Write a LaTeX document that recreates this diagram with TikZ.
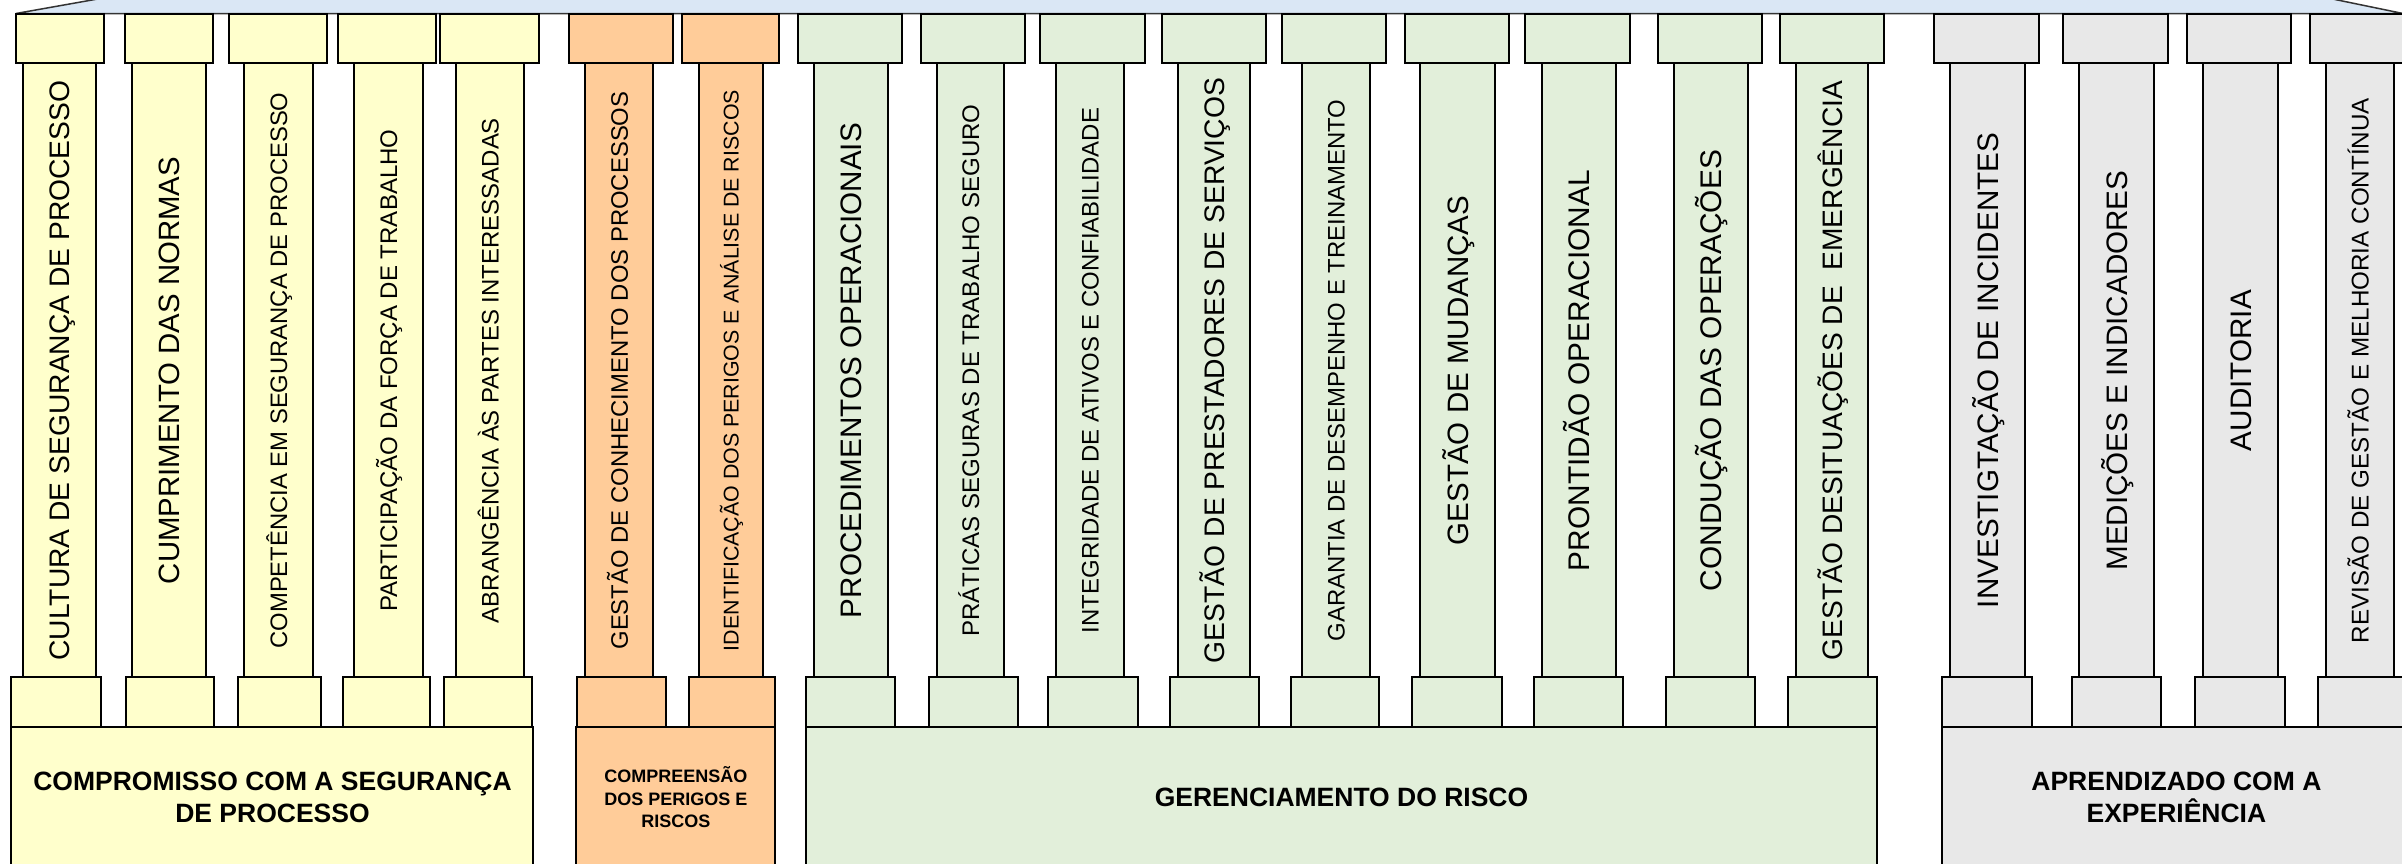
\documentclass[tikz,border=0pt]{standalone}
\usepackage{fontspec}
\setmainfont{Liberation Sans}
\definecolor{cyel}{HTML}{FFFFCC}
\definecolor{corg}{HTML}{FFCC99}
\definecolor{cgrn}{HTML}{E2EFDA}
\definecolor{cgry}{HTML}{E8E8E8}
\definecolor{croof}{HTML}{DAE7F5}
\newcounter{pil}
\newlength\fitlen
\newcommand\fitsize[2]{\begingroup\pgfinterruptpicture\normalfont\fontsize{10pt}{12pt}\selectfont\settowidth\fitlen{#2}\global\fitlen=\fitlen\endpgfinterruptpicture\endgroup\pgfmathsetmacro\fitsz{10*#1/\fitlen}}
\tikzset{
  part/.style={draw=black, line width=2pt, inner sep=0pt, outer sep=0pt, anchor=center},
  lbl/.style={rotate=90, anchor=base, inner sep=0pt, outer sep=0pt, text=black},
  blocktxt/.style={align=center, text=black, inner sep=0pt},
}
% #1 colour, #2 capL, #3 capR, #4 shaftL, #5 shaftR, #6 baseL, #7 baseR, #8 text length, #9 text
\newcommand\pillar[9]{%
  \stepcounter{pil}%
  \node[part, fill=#1, minimum width={#5-#4}, minimum height=613.7] (shaft\thepil) at ({(#4+#5)/2},369.85) {};
  \node[part, fill=#1, minimum width={#3-#2}, minimum height=49.5] (cap\thepil) at ({(#2+#3)/2},38.25) {};
  \node[part, fill=#1, minimum width={#7-#6}, minimum height=50] (base\thepil) at ({(#6+#7)/2},701.7) {};
  \fitsize{#8}{#9}%
  \node[lbl] (txt\thepil) at ({(#4+#5)/2+0.358*\fitsz},370.5) {\fontsize{\fitsz pt}{\fitsz pt}\selectfont #9};
}
\begin{document}
\begin{tikzpicture}[x=1pt,y=-1pt]
\useasboundingbox (0,0) rectangle (2402,863);
\fill[white] (0,0) rectangle (2402,863);
\clip (0,0) rectangle (2402,863);
% roof
\filldraw[fill=croof, draw=black!80, line width=1.5pt] (16,13.5) -- (168,-13.5) -- (2272,-13.5) -- (2403,13.5) -- cycle;
% pillars
\pillar{cyel}{16.1}{104.1}{22.7}{95.7}{11.3}{101.3}{580}{CULTURA DE SEGURANÇA DE PROCESSO}
\pillar{cyel}{124.8}{212.8}{132.3}{206.3}{126}{213.7}{427}{CUMPRIMENTO DAS NORMAS}
\pillar{cyel}{228.5}{327.2}{244.3}{312.7}{238}{321}{556}{COMPETÊNCIA EM SEGURANÇA DE PROCESSO}
\pillar{cyel}{337.9}{436.3}{354.3}{422.7}{342.7}{430.3}{482}{PARTICIPAÇÃO DA FORÇA DE TRABALHO}
\pillar{cyel}{440.1}{538.5}{456}{524.3}{444.3}{532.3}{505}{ABRANGÊNCIA ÀS PARTES INTERESSADAS}
\pillar{corg}{569}{673}{585.3}{653.3}{577.3}{666.3}{558}{GESTÃO DE CONHECIMENTO DOS PROCESSOS}
\pillar{corg}{682.3}{779.3}{698.7}{763.3}{688.7}{775.3}{561}{IDENTIFICAÇÃO DOS PERIGOS E ANÁLISE DE RISCOS}
\pillar{cgrn}{798}{902.3}{814}{888.3}{806}{895.3}{495}{PROCEDIMENTOS OPERACIONAIS}
\pillar{cgrn}{920.7}{1025}{936.7}{1004.3}{928.7}{1018}{532}{PRÁTICAS SEGURAS DE TRABALHO SEGURO}
\pillar{cgrn}{1040}{1144.6}{1056.3}{1124}{1048.3}{1138}{525}{INTEGRIDADE DE ATIVOS E CONFIABILIDADE}
\pillar{cgrn}{1161.6}{1266}{1178}{1250.3}{1169.7}{1259.3}{585}{GESTÃO DE PRESTADORES DE SERVIÇOS}
\pillar{cgrn}{1281.7}{1385.7}{1302.3}{1370}{1290.7}{1379.3}{542}{GARANTIA DE DESEMPENHO E TREINAMENTO}
\pillar{cgrn}{1404.5}{1508.5}{1420.3}{1495.3}{1412.3}{1502.3}{349}{GESTÃO DE MUDANÇAS}
\pillar{cgrn}{1525.4}{1630}{1542}{1616.3}{1534}{1623.3}{401}{PRONTIDÃO OPERACIONAL}
\pillar{cgrn}{1657.6}{1762}{1674}{1748}{1666}{1755}{441}{CONDUÇÃO DAS OPERAÇÕES}
\pillar{cgrn}{1779.5}{1883.7}{1796}{1868.3}{1788}{1877}{579}{GESTÃO DESITUAÇÕES DE~~EMERGÊNCIA}
\pillar{cgry}{1934.4}{2038.8}{1950.3}{2025.3}{1942.3}{2032.3}{475}{INVESTIGTAÇÃO DE INCIDENTES}
\pillar{cgry}{2063.3}{2167.8}{2079.3}{2154.3}{2071.7}{2161.3}{400}{MEDIÇÕES E INDICADORES}
\pillar{cgry}{2187}{2291.4}{2203.3}{2278.3}{2195.3}{2285.3}{161}{AUDITORIA}
\pillar{cgry}{2309.8}{2414}{2326}{2393.7}{2318.3}{2408}{545}{REVISÃO DE GESTÃO E MELHORIA CONTÍNUA}
% foundation blocks
\node[part, fill=cyel, minimum width=522, minimum height=173.3] (blk1) at (272.3,813.35) {};
\node[part, fill=corg, minimum width=199, minimum height=173.3] (blk2) at (675.8,813.35) {};
\node[part, fill=cgrn, minimum width=1071, minimum height=173.3] (blk3) at (1341.5,813.35) {};
\node[part, fill=cgry, minimum width=468.2, minimum height=173.3] (blk4) at (2176.4,813.35) {};
\node[blocktxt, font=\fontsize{26.5pt}{31.6pt}\selectfont\bfseries] (t1) at (272.5,797.5) {COMPROMISSO COM A SEGURANÇA\\DE PROCESSO};
\node[blocktxt, font=\fontsize{18pt}{22.5pt}\selectfont\bfseries] (t2) at (675.8,797.5) {COMPREENSÃO\\DOS PERIGOS E\\RISCOS};
\node[blocktxt, font=\fontsize{26.5pt}{31.6pt}\selectfont\bfseries] (t3) at (1341.5,797) {GERENCIAMENTO DO RISCO};
\node[blocktxt, font=\fontsize{26.5pt}{31.6pt}\selectfont\bfseries] (t4) at (2176.4,797.5) {APRENDIZADO COM A\\EXPERIÊNCIA};
\end{tikzpicture}
\end{document}
